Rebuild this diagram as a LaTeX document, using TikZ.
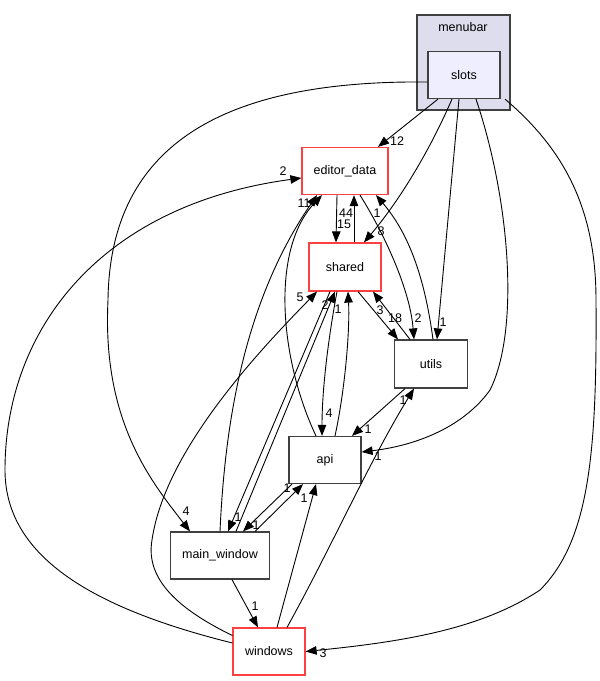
\documentclass[tikz,border=0pt]{standalone}
\usepackage{fontspec}
\setmainfont{Liberation Sans}
\usetikzlibrary{arrows.meta}

\definecolor{dirred}{RGB}{255,64,64}
\definecolor{dirgray}{RGB}{64,64,64}
\definecolor{clusterfill}{RGB}{221,221,238}
\definecolor{slotsfill}{RGB}{238,238,255}

\tikzset{
  dirbox/.style={draw=dirgray, line width=1.2pt, fill=white, inner sep=0pt,
    minimum width=72pt, minimum height=47pt, font=\fontsize{12.5}{14}\selectfont},
  reddirbox/.style={dirbox, draw=dirred},
  deparrow/.style={line width=0.9pt, -{Triangle[length=11pt,width=8.5pt]}},
  numlabel/.style={inner sep=0pt, font=\fontsize{12.5}{14}\selectfont}
}

\begin{document}
\begin{tikzpicture}[x=1pt,y=-1pt]
        \useasboundingbox (0,0) rectangle (600,681);

        \node[dirbox, fill=clusterfill, minimum width=93pt, minimum height=95pt] (menubar) at (463.5,62.5) {};
        \node[numlabel] (menubarname) at (463,27) {menubar};
        \node[dirbox, fill=slotsfill] (slots) at (464,75) {slots};
        \node[reddirbox, minimum width=86pt] (editordata) at (345,171) {editor\_data};
        \node[reddirbox, minimum height=48pt] (shared) at (345,267) {shared};
        \node[dirbox, minimum width=73pt, minimum height=48pt] (utils) at (431,364) {utils};
        \node[dirbox] (api) at (325,460) {api};
        \node[dirbox, minimum width=99pt] (mainwindow) at (220,555.5) {main\_window};
        \node[reddirbox] (windows) at (269,651.5) {windows};

        \draw[deparrow] ([xshift=-26pt]slots.south) -- ([xshift=33pt]editordata.north);
        \draw[deparrow] ([xshift=-12pt]slots.south) .. controls (430,150) and (400,200) .. ([xshift=19pt]shared.north);
        \draw[deparrow] ([xshift=-5pt]slots.south) -- ([xshift=6pt]utils.north);
        \draw[deparrow] ([xshift=12pt]slots.south) .. controls (510,200) and (520,330) .. (490,390) .. controls (465,425) and (420,445) .. ([yshift=8pt]api.east);
        \draw[deparrow] ([yshift=-7pt]slots.west) .. controls (230,80) and (110,140) .. (108,300) .. controls (102,420) and (150,480) .. ([xshift=-30pt]mainwindow.north);
        \draw[deparrow] ([xshift=41pt]slots.south) .. controls (565,150) and (596,210) .. (596,300) .. controls (597,450) and (590,540) .. (540,590) .. controls (480,630) and (400,642) .. (windows.east);

        \draw[deparrow] ([xshift=-8pt]editordata.south) -- ([xshift=-9pt]shared.north);
        \draw[deparrow] ([xshift=9pt]shared.north) -- ([xshift=9pt]editordata.south);
        \draw[deparrow] ([xshift=15pt]editordata.south) .. controls (385,235) and (410,290) .. ([xshift=-17pt]utils.north);
        \draw[deparrow] ([xshift=2pt]utils.north) .. controls (425,280) and (410,235) .. ([xshift=31pt]editordata.south);
        \draw[deparrow] ([xshift=13pt]shared.south) -- ([xshift=-33pt]utils.north);
        \draw[deparrow] ([xshift=-21pt]utils.north) -- ([xshift=28pt]shared.south);

        \draw[deparrow] ([yshift=8.5pt]windows.west) .. controls (100,610) and (5,560) .. (5,470) .. controls (5,330) and (100,205) .. ([yshift=-7pt]editordata.west);
        \draw[deparrow] ([yshift=16pt]windows.west) .. controls (180,610) and (145,580) .. (152,540) .. controls (165,450) and (260,350) .. ([xshift=-28pt]shared.south);
        \draw[deparrow] ([xshift=8pt]windows.north) -- ([xshift=-9pt]api.south);
        \draw[deparrow] ([xshift=18pt]windows.north) .. controls (330,550) and (370,460) .. ([xshift=-17pt]utils.south);

        \draw[deparrow] ([xshift=12pt]mainwindow.south) -- ([xshift=-11pt]windows.north);
        \draw[deparrow] (mainwindow.north) .. controls (225,420) and (245,300) .. ([xshift=-28pt]editordata.south);
        \draw[deparrow] ([xshift=-9pt]api.north) .. controls (280,360) and (270,250) .. ([xshift=-23pt]editordata.south);
        \draw[deparrow] ([xshift=-15pt]shared.south) -- ([xshift=8pt]mainwindow.north);
        \draw[deparrow] ([xshift=16pt]mainwindow.north) -- ([xshift=-10pt]shared.south);
        \draw[deparrow] ([xshift=-8pt]shared.south) .. controls (328,340) and (322,390) .. ([xshift=-3pt]api.north);
        \draw[deparrow] ([xshift=10pt]api.north) .. controls (345,390) and (350,330) .. ([xshift=3pt]shared.south);
        \draw[deparrow] ([xshift=35pt]mainwindow.north) -- ([xshift=-22pt]api.south);
        \draw[deparrow] ([xshift=-33pt]api.south) -- ([xshift=23pt]mainwindow.north);
        \draw[deparrow] ([xshift=-26pt]utils.south) -- ([xshift=27pt]api.north);

        \node[numlabel] (n1) at (397,141) {12};
        \node[numlabel] (n2) at (381,231) {8};
        \node[numlabel] (n3) at (443,322) {1};
        \node[numlabel] (n4) at (378,456) {1};
        \node[numlabel] (n5) at (186,511) {4};
        \node[numlabel] (n6) at (323,653) {3};
        \node[numlabel] (n7) at (344,224) {15};
        \node[numlabel] (n8) at (346,213) {44};
        \node[numlabel] (n9) at (418,318) {2};
        \node[numlabel] (n10) at (377,213) {1};
        \node[numlabel] (n11) at (395,318) {18};
        \node[numlabel] (n12) at (380,310) {3};
        \node[numlabel] (n13) at (283,171) {2};
        \node[numlabel] (n14) at (300,297) {5};
        \node[numlabel] (n15) at (304,498) {1};
        \node[numlabel] (n16) at (403,400) {1};
        \node[numlabel] (n17) at (255,606) {1};
        \node[numlabel] (n18) at (301,203) {1};
        \node[numlabel] (n19) at (307,203) {1};
        \node[numlabel] (n20) at (238,517) {1};
        \node[numlabel] (n21) at (325,305) {2};
        \node[numlabel] (n22) at (329,413) {4};
        \node[numlabel] (n23) at (338,309) {1};
        \node[numlabel] (n24) at (287,488) {1};
        \node[numlabel] (n25) at (256,525) {1};
        \node[numlabel] (n26) at (368,429) {1};
\end{tikzpicture}
\end{document}
